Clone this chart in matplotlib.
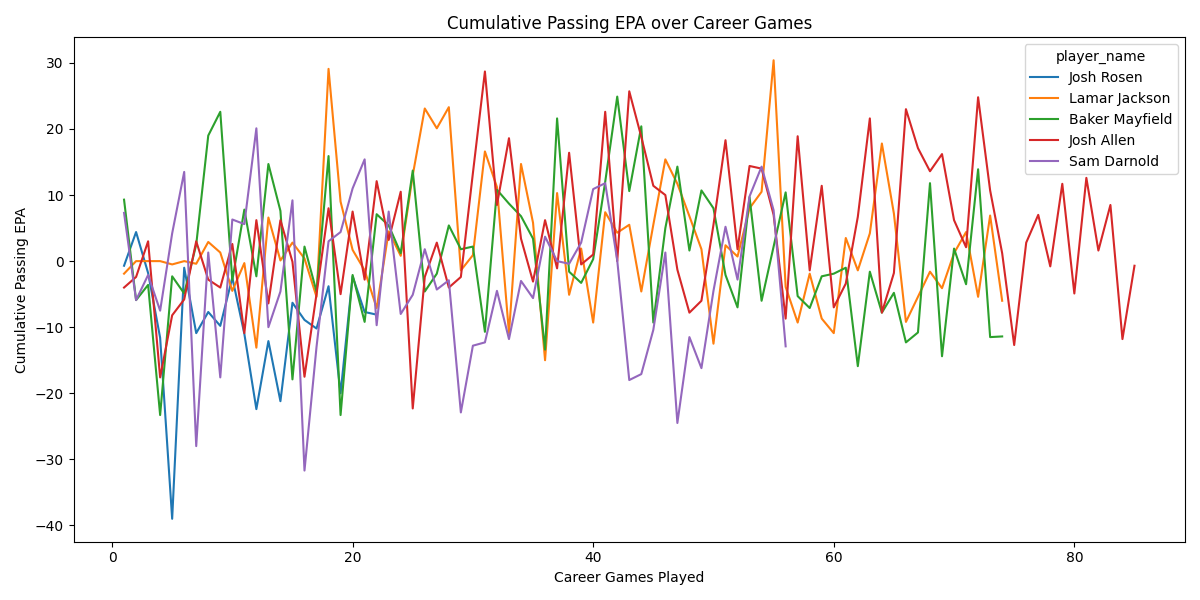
import matplotlib
matplotlib.use("Agg")
import matplotlib.pyplot as plt

players = ["Josh Rosen", "Lamar Jackson", "Baker Mayfield", "Josh Allen", "Sam Darnold"]
colors = ["#1f77b4", "#ff7f0e", "#2ca02c", "#d62728", "#9467bd"]

rosen = [-0.7, 4.4, -1.8, -11.6, -39.0, -1.0, -10.9, -7.7, -9.8, -2.5, -11.0, -22.4,
         -12.1, -21.2, -6.3, -8.9, -10.2, -3.8, -20.0, -2.3, -7.7, -8.1]

lamar = [-1.9, 0.0, 0.0, 0.0, -0.5, 0.0, -0.4, 2.9, 1.3, -4.5, -0.3, -13.1, 6.6, 0.1,
         2.8, 0.4, -5.4, 29.1, 9.0, 1.7, -1.4, -7.1, 4.5, 0.8, 13.0, 23.1, 20.1, 23.3,
         -1.4, 0.9, 16.6, 11.2, -10.9, 14.7, 5.8, -15.0, 10.3, -5.1, 1.9, -9.3, 7.4,
         4.3, 5.5, -4.6, 5.5, 15.4, 11.7, 6.8, 1.8, -12.5, 2.4, 0.7, 8.0, 10.5, 30.4,
         -3.9, -9.3, -1.9, -8.7, -10.9, 3.5, -1.4, 4.2, 17.8, 7.2, -9.2, -5.4, -1.6,
         -4.1, 1.2, 4.4, -5.4, 6.9, -6.0]

baker = [9.3, -5.9, -3.6, -23.3, -2.3, -4.9, 2.5, 19.0, 22.6, -2.9, 7.8, -2.3, 14.7,
         7.6, -17.9, 2.2, -4.6, 15.9, -23.3, -2.1, -9.2, 7.1, 5.4, 1.2, 13.7, -4.6,
         -1.9, 5.4, 1.8, 2.2, -10.7, 10.8, 8.7, 6.8, 3.4, -13.4, 21.6, -1.6, -3.3, 0.3,
         12.0, 24.9, 10.6, 20.4, -9.3, 5.0, 14.3, 1.6, 10.7, 8.0, -2.1, -7.0, 9.7, -6.0,
         2.2, 10.4, -5.3, -7.1, -2.3, -1.9, -1.0, -15.9, -1.6, -7.8, -4.8, -12.3,
         -10.8, 11.8, -14.4, 1.9, -3.5, 13.9, -11.5, -11.4]

allen = [-4.0, -2.4, 3.0, -17.6, -8.2, -5.8, 3.0, -2.8, -4.0, 2.6, -10.9, 6.2, -6.4,
         6.2, -0.1, -17.5, -5.0, 8.0, -5.0, 7.5, -2.8, 12.1, 3.2, 10.5, -22.3, -2.4,
         2.8, -4.0, -2.4, 13.3, 28.7, 8.5, 18.6, 3.4, -3.1, 6.2, -1.1, 16.4, -0.5, 1.0,
         22.6, 0.0, 25.7, 18.8, 11.4, 10.0, -1.3, -7.8, -6.0, 5.5, 18.3, 1.8, 14.4,
         14.0, 7.0, -8.7, 18.9, -1.4, 11.4, -7.0, -3.4, 6.7, 21.6, -7.8, -1.8, 23.0,
         17.1, 13.6, 16.2, 6.2, 2.1, 24.8, 10.7, 1.2, -12.7, 2.8, 7.0, -0.8, 11.7, -4.9,
         12.6, 1.6, 8.5, -11.8, -0.7]

darnold = [7.3, -5.9, -2.1, -7.5, 4.2, 13.5, -28.0, 1.3, -17.6, 6.3, 5.6, 20.1, -10.0,
           -4.6, 9.2, -31.7, -13.0, 3.0, 4.4, 11.0, 15.4, -9.7, 7.5, -8.0, -5.1, 1.8,
           -4.3, -2.9, -22.9, -12.8, -12.3, -4.5, -11.8, -3.0, -5.6, 3.7, 0.0, -0.4, 2.8,
           10.9, 11.8, 0.1, -18.0, -17.1, -10.4, 1.3, -24.5, -11.5, -16.2, -4.5, 5.2,
           -2.8, 9.8, 14.3, 7.7, -12.9]

series = [rosen, lamar, baker, allen, darnold]

fig, ax = plt.subplots(figsize=(12, 6), dpi=100)
for name, vals, c in zip(players, series, colors):
    games = list(range(1, len(vals) + 1))
    ax.plot(games, vals, color=c, label=name, linewidth=1.5)

ax.set_title("Cumulative Passing EPA over Career Games")
ax.set_xlabel("Career Games Played")
ax.set_ylabel("Cumulative Passing EPA")
ax.legend(title="player_name", loc="upper right")
fig.tight_layout()
fig.savefig("out.png")
